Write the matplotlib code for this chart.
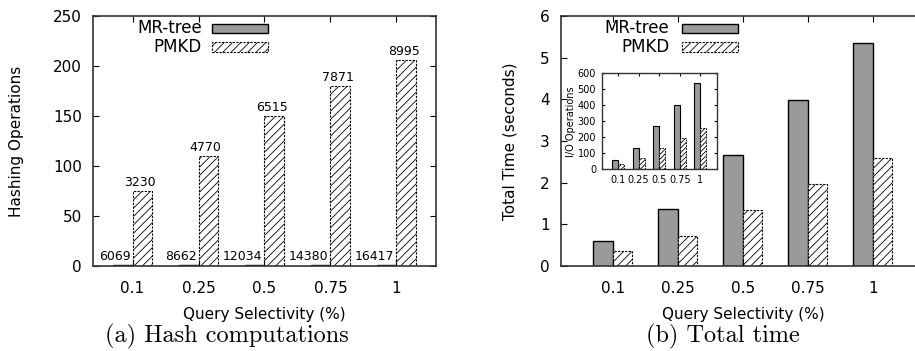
import matplotlib
matplotlib.use("Agg")
import matplotlib.pyplot as plt
from matplotlib.patches import Rectangle
import numpy as np

# === data ===
selectivity = ["0.1", "0.25", "0.5", "0.75", "1"]

# (a) hash computations
mr_hash = [0.6, 0.6, 0.6, 0.6, 0.6]
pmkd_hash = [75, 110, 150, 180, 206]
mr_hash_labels = ["6069", "8662", "12034", "14380", "16417"]
pmkd_hash_labels = ["3230", "4770", "6515", "7871", "8995"]

# (b) total time (seconds)
mr_time = [0.59, 1.36, 2.67, 3.99, 5.34]
pmkd_time = [0.36, 0.73, 1.35, 1.96, 2.58]

# inset: I/O operations
mr_io = [58, 135, 269, 402, 537]
pmkd_io = [31, 71, 133, 196, 258]

plt.rcParams["font.family"] = "DejaVu Sans"
plt.rcParams["hatch.linewidth"] = 0.6

GRAY = "#9a9a9a"
DASH = (0, (2.0, 1.2))
W = 0.3

fig = plt.figure(figsize=(9.15, 3.51), dpi=100)


def style_axes(ax, fs=11, pad=8, length=4, lw=1.2):
    for s in ax.spines.values():
        s.set_linewidth(lw)
        s.set_color("#333333")
    ax.tick_params(direction="in", top=True, right=True, length=length,
                   width=0.8, labelsize=fs, pad=pad)


def draw_pair(ax, mr, pmkd, hatch, lw=1.0):
    x = np.arange(len(mr))
    ax.bar(x - W / 2, mr, W, color=GRAY, edgecolor="black", linewidth=lw)
    ax.bar(x + W / 2, pmkd, W, color="white", edgecolor="black",
           linewidth=lw * 0.8, hatch=hatch, linestyle=DASH)
    return x


def legend(ax, xtext, x0, x1, rows):
    # gnuplot style key: right-aligned text, then the swatch
    for (label, y0, y1, solid) in rows:
        ax.text(xtext, (y0 + y1) / 2, label, transform=ax.transAxes,
                ha="right", va="center", fontsize=12)
        if solid:
            r = Rectangle((x0, y0), x1 - x0, y1 - y0, transform=ax.transAxes,
                          facecolor=GRAY, edgecolor="black", linewidth=1.0)
        else:
            r = Rectangle((x0, y0), x1 - x0, y1 - y0, transform=ax.transAxes,
                          facecolor="white", edgecolor="black", linewidth=0.8,
                          hatch="////", linestyle=DASH)
        ax.add_patch(r)


# --- (a) Hash computations ---
ax1 = fig.add_axes([0.1016, 0.2422, 0.3749, 0.7123])
x = draw_pair(ax1, mr_hash, pmkd_hash, "////")
ax1.set_xlim(-0.6, 4.6)
ax1.set_ylim(0, 250)
ax1.set_yticks(range(0, 251, 50))
ax1.set_xticks(x)
ax1.set_xticklabels(selectivity)
style_axes(ax1)
ax1.tick_params(axis="x", pad=11)
ax1.set_xlabel("Query Selectivity (%)", fontsize=11, labelpad=8)
ax1.set_ylabel("Hashing Operations", fontsize=11, labelpad=21)
for i in x:
    ax1.annotate(mr_hash_labels[i], (i - 0.03, mr_hash[i]), xytext=(0, 1.5),
                 textcoords="offset points", ha="right", va="bottom", fontsize=9)
    ax1.annotate(pmkd_hash_labels[i], (i + W / 2 - 0.04, pmkd_hash[i]),
                 xytext=(0, 1.5), textcoords="offset points",
                 ha="center", va="bottom", fontsize=9)
legend(ax1, 0.318, 0.347, 0.510,
       [("MR-tree", 0.932, 0.968, True), ("PMKD", 0.857, 0.897, False)])

# --- (b) Total time (axes runs past the right edge, as in the original) ---
ax2 = fig.add_axes([0.6131, 0.2422, 0.3978, 0.7123])
x = draw_pair(ax2, mr_time, pmkd_time, "////")
ax2.set_xlim(-0.8, 4.8)
ax2.set_ylim(0, 6)
ax2.set_xticks(x)
ax2.set_xticklabels(selectivity)
style_axes(ax2)
ax2.spines["right"].set_visible(False)
ax2.tick_params(axis="y", right=False)
ax2.tick_params(axis="x", pad=11)
ax2.set_xlabel("Query Selectivity (%)", fontsize=11, labelpad=8)
ax2.set_ylabel("Total Time (seconds)", fontsize=11, labelpad=16)
legend(ax2, 0.2975, 0.3316, 0.4854,
       [("MR-tree", 0.932, 0.968, True), ("PMKD", 0.857, 0.897, False)])

# --- inset: I/O operations ---
ax3 = fig.add_axes([0.6576, 0.5177, 0.1257, 0.2735])
x = draw_pair(ax3, mr_io, pmkd_io, "///////", lw=0.8)
ax3.set_xlim(-0.8, 4.8)
ax3.set_ylim(0, 600)
ax3.set_yticks(range(0, 601, 100))
ax3.set_xticks(x)
ax3.set_xticklabels(selectivity)
style_axes(ax3, fs=7, pad=4, length=2, lw=1.0)
ax3.set_ylabel("I/O Operations", fontsize=7, labelpad=1)

# captions
fig.text(0.248, 0.023, "(a) Hash computations", ha="center", va="baseline",
         fontsize=17.5, family="cmr10")
fig.text(0.790, 0.023, "(b) Total time", ha="center", va="baseline",
         fontsize=17.5, family="cmr10")

fig.savefig("out.png", dpi=100)
